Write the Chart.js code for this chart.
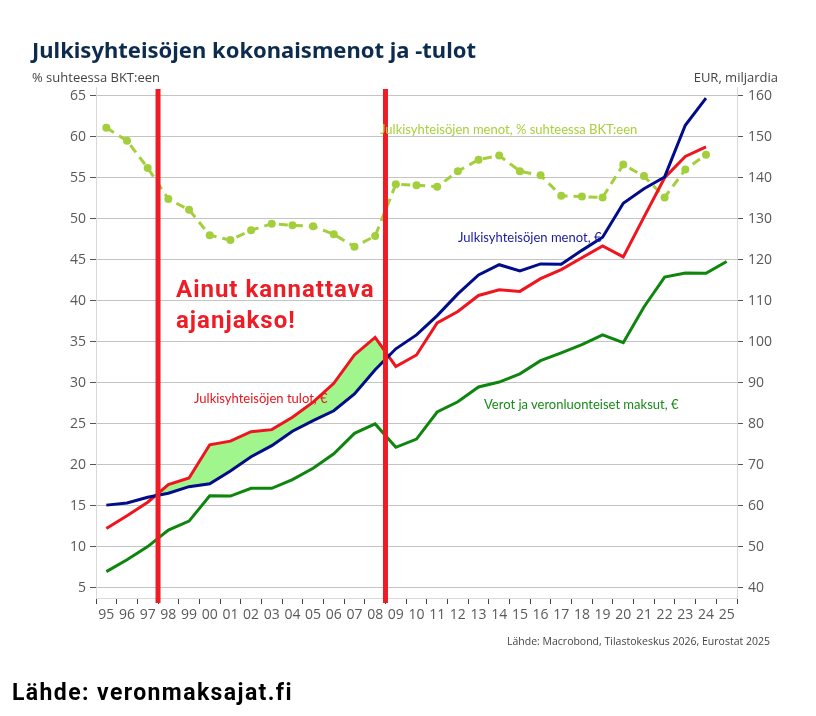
<!DOCTYPE html>
<html>
<head>
<meta charset="utf-8">
<script src="https://cdn.jsdelivr.net/npm/chart.js@4"></script>
<style>
  html, body { margin: 0; padding: 0; background: #fff; }
  #wrap { position: relative; width: 816px; height: 716px; overflow: hidden; }
  #chart { position: absolute; left: 0; top: 0; }
  .txt { position: absolute; white-space: nowrap; line-height: 1; }
  #title { left: 32px; top: 34px; font: bold 22px "Noto Sans", sans-serif; color: #0d2b4e; }
  #ytitle-l { left: 32px; top: 68px; font: 13px "Open Sans", sans-serif; color: #444; }
  #ytitle-r { right: 38px; top: 68px; font: 13px "Open Sans", sans-serif; color: #444; }
  #source { right: 46px; top: 634px; font: 10.5px "Open Sans", sans-serif; color: #444; }
  #footer { left: 12px; top: 679px; font: bold 23px Roboto, sans-serif; letter-spacing: 1.4px; color: #000; }
  .big { left: 176px; font: bold 24px Roboto, sans-serif; letter-spacing: 1px; color: #ee1c25; }
  .lbl { font: 13px Lato, sans-serif; }
</style>
</head>
<body>
<div id="wrap">
  <canvas id="chart" width="816" height="716"></canvas>
  <div class="txt" id="title">Julkisyhteisöjen kokonaismenot ja -tulot</div>
  <div class="txt" id="ytitle-l">% suhteessa BKT:een</div>
  <div class="txt" id="ytitle-r">EUR, miljardia</div>
  <div class="txt lbl" style="left:380px; top:121px; color:#a8d03c;">Julkisyhteisöjen menot, % suhteessa BKT:een</div>
  <div class="txt lbl" style="left:458px; top:229px; color:#1a1aa0;">Julkisyhteisöjen menot, €</div>
  <div class="txt lbl" style="left:194px; top:390px; color:#e8141c;">Julkisyhteisöjen tulot, €</div>
  <div class="txt lbl" style="left:484px; top:396px; color:#198a19;">Verot ja veronluonteiset maksut, €</div>
  <div class="txt big" style="top:275px;">Ainut kannattava</div>
  <div class="txt big" style="top:306px;">ajanjakso!</div>
  <div class="txt" id="source">Lähde: Macrobond, Tilastokeskus 2026, Eurostat 2025</div>
  <div class="txt" id="footer">Lähde: veronmaksajat.fi</div>
</div>
<script>
const YEARS = ["95","96","97","98","99","00","01","02","03","04","05","06","07","08","09",
               "10","11","12","13","14","15","16","17","18","19","20","21","22","23","24","25"];

// EUR bn, right axis
const MENOT_EUR = [60.2, 60.7, 62.1, 63.1, 64.7, 65.4, 68.5, 72.0, 74.7, 78.2, 80.8, 83.2, 87.3, 93.2, 98.3,
                   101.7, 106.4, 111.7, 116.3, 118.8, 117.3, 119.0, 118.9, 122.3, 125.5, 133.8, 137.3, 140.2, 152.8, 159.4, null];
const TULOT_EUR = [54.5, 57.6, 60.9, 65.2, 66.8, 74.9, 75.8, 78.1, 78.6, 81.6, 85.3, 89.9, 96.8, 101.1, 94.0,
                   96.8, 104.6, 107.4, 111.3, 112.7, 112.3, 115.4, 117.6, 120.5, 123.4, 120.7, 130.4, 140.0, 145.2, 147.5, null];
const VEROT_EUR = [44.0, 46.9, 50.1, 54.1, 56.3, 62.5, 62.4, 64.3, 64.3, 66.4, 69.2, 72.7, 77.7, 80.0, 74.3,
                   76.3, 82.9, 85.4, 89.0, 90.2, 92.2, 95.4, 97.3, 99.3, 101.7, 99.8, 108.5, 115.8, 116.8, 116.7, 119.6];
// % of GDP, left axis
const MENOT_BKT = [61.1, 59.5, 56.2, 52.4, 51.1, 48.0, 47.4, 48.6, 49.4, 49.2, 49.1, 48.1, 46.6, 47.9, 54.2,
                   54.1, 53.9, 55.8, 57.2, 57.7, 55.8, 55.3, 52.8, 52.7, 52.6, 56.6, 55.2, 52.6, 56.0, 57.8, null];

const LEFT_TICKS  = [5, 10, 15, 20, 25, 30, 35, 40, 45, 50, 55, 60, 65];
const RIGHT_TICKS = [40, 50, 60, 70, 80, 90, 100, 110, 120, 130, 140, 150, 160];

// the highlighted period, drawn as red lines between these years
const PERIOD_BOUNDS = [["97", "98"], ["08", "09"]];

const BLUE = "#000c8a", RED = "#f0141e", GREEN = "#0e860e", LIME = "#a4cf3c", FILL = "#a0f58c";

const periodLines = {
  id: "periodLines",
  afterDatasetsDraw(chart) {
    const x = chart.scales.x, area = chart.chartArea, ctx = chart.ctx;
    ctx.save();
    ctx.strokeStyle = "#ee1c25";
    ctx.lineWidth = 5;
    for (const [a, b] of PERIOD_BOUNDS) {
      const px = (x.getPixelForValue(YEARS.indexOf(a)) + x.getPixelForValue(YEARS.indexOf(b))) / 2;
      ctx.beginPath();
      ctx.moveTo(px, area.top + 2);
      ctx.lineTo(px, area.bottom + 5);
      ctx.stroke();
    }
    ctx.restore();
  }
};

const tickFont = { family: "'Open Sans', sans-serif", size: 14 };

new Chart(document.getElementById("chart"), {
  type: "line",
  data: {
    labels: YEARS,
    datasets: [
      { data: MENOT_EUR, yAxisID: "y1", borderColor: BLUE, borderWidth: 3, pointRadius: 0, fill: false },
      { data: TULOT_EUR, yAxisID: "y1", borderColor: RED, borderWidth: 3, pointRadius: 0,
        fill: { target: 0, above: FILL, below: "rgba(0,0,0,0)" } },
      { data: VEROT_EUR, yAxisID: "y1", borderColor: GREEN, borderWidth: 3, pointRadius: 0, fill: false },
      { data: MENOT_BKT, yAxisID: "y", borderColor: LIME, backgroundColor: LIME, borderWidth: 3,
        borderDash: [9, 6], pointRadius: 4, pointBorderWidth: 0, fill: false }
    ]
  },
  options: {
    responsive: false,
    animation: false,
    events: [],
    layout: { padding: { top: 87, left: 0, right: 0, bottom: 0 } },
    plugins: { legend: { display: false }, tooltip: { enabled: false } },
    elements: { line: { tension: 0 } },
    scales: {
      x: {
        type: "category",
        offset: true,
        grid: { offset: true, drawOnChartArea: false, tickLength: 6, color: "#444" },
        border: { color: "#d9d9d9" },
        ticks: { color: "#595959", font: tickFont, maxRotation: 0, autoSkip: false, padding: 3 },
        afterFit(s) { s.height = 118; }
      },
      y: {
        position: "left",
        min: 3.78, max: 66.06,
        afterBuildTicks(s) { s.ticks = LEFT_TICKS.map(v => ({ value: v })); },
        grid: { color: "#c4c4c4", tickLength: 6, tickColor: "#555" },
        border: { color: "#d9d9d9" },
        ticks: { color: "#595959", font: tickFont, padding: 4 },
        afterFit(s) { s.width = 96; }
      },
      y1: {
        position: "right",
        min: 37.56, max: 162.12,
        afterBuildTicks(s) { s.ticks = RIGHT_TICKS.map(v => ({ value: v })); },
        grid: { drawOnChartArea: false, tickLength: 6, tickColor: "#555" },
        border: { color: "#d9d9d9" },
        ticks: { color: "#595959", font: tickFont, padding: 5 },
        afterFit(s) { s.width = 79; }
      }
    }
  },
  plugins: [periodLines]
});
</script>
</body>
</html>
